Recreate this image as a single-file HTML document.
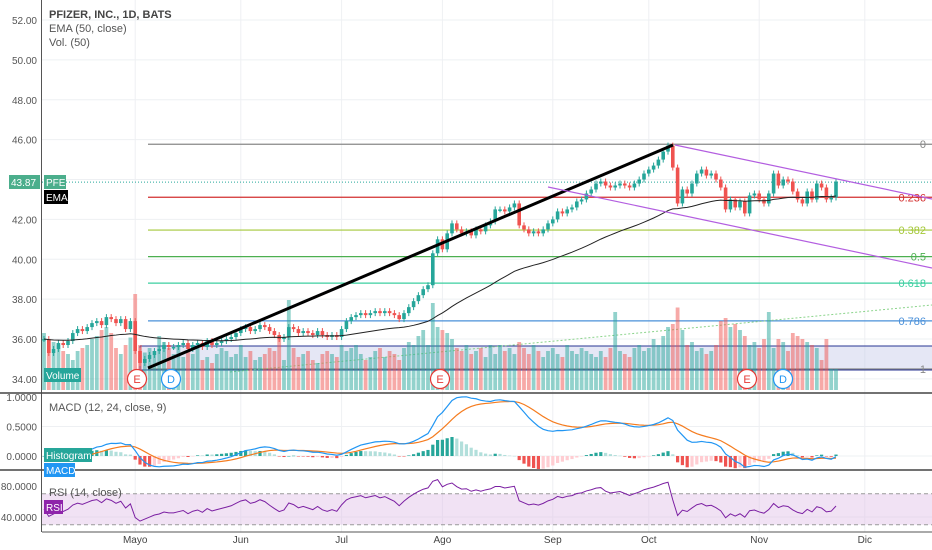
<!DOCTYPE html>
<html><head><meta charset="utf-8">
<style>
html,body{margin:0;padding:0;background:#fff;}
svg{display:block;font-family:"Liberation Sans",sans-serif;}
</style></head>
<body>
<svg id="chart" width="932" height="550" viewBox="0 0 932 550" xmlns="http://www.w3.org/2000/svg">
<g id="grid"></g>
<g id="overlays"></g>
<g id="vol"></g>
<g id="candles"></g>
<g id="ind"></g>
<g id="labels"></g>
</svg>
<script>
const closes=[36.0,35.3,35.5,35.8,35.7,35.9,36.3,36.5,36.4,36.6,
36.8,36.9,36.7,37.1,37.0,36.8,37.0,36.5,36.9,35.4,
34.8,35.0,35.2,35.4,35.5,35.7,35.6,35.6,35.7,35.8,
35.5,35.7,35.8,35.6,35.9,35.7,35.8,35.9,36.0,36.1,
36.3,36.5,36.6,36.4,36.5,36.7,36.6,36.4,36.2,36.0,
36.1,36.6,36.5,36.3,36.4,36.3,36.2,36.4,36.2,36.1,
36.2,36.1,36.5,36.9,37.1,37.2,37.3,37.2,37.3,37.4,
37.3,37.4,37.3,37.2,37.0,37.3,37.6,37.9,38.2,38.5,
38.7,40.3,41.0,40.5,41.3,41.8,41.5,41.3,41.4,41.2,
41.5,41.4,41.7,41.9,42.5,42.5,42.4,42.6,42.8,41.7,
41.5,41.3,41.4,41.3,41.5,41.8,42.0,42.4,42.3,42.5,
42.6,42.9,43.0,43.3,43.5,43.8,43.9,43.7,43.6,43.7,
43.8,43.7,43.6,43.8,44.0,44.3,44.5,44.7,45.0,45.4,
45.7,44.6,42.8,43.5,43.3,43.8,44.3,44.5,44.2,44.3,
44.0,43.6,42.5,43.0,42.6,42.9,42.3,43.2,43.3,43.0,
42.8,43.3,44.3,43.7,44.0,43.9,43.4,43.0,42.8,43.4,
43.0,43.8,43.6,43.0,43.1,43.9];
const volumes=[38,33,32,30,26,24,20,26,28,30,
34,36,40,42,38,28,24,30,35,64,
30,25,28,26,36,32,28,24,30,22,
26,24,28,20,22,18,24,28,26,22,
24,30,22,26,20,22,24,28,26,34,
20,60,28,22,24,26,20,18,24,26,
24,22,30,26,28,30,24,20,22,26,
28,22,26,24,20,28,32,30,36,40,
30,58,42,40,38,34,28,26,30,24,
26,28,22,30,24,30,26,28,24,32,
28,24,30,26,22,26,28,24,22,30,
26,24,28,26,24,22,26,22,28,52,
26,24,22,28,30,26,28,34,30,36,
42,44,55,40,30,32,26,28,24,26,
30,46,48,42,44,40,36,30,32,28,
34,52,28,34,32,26,38,36,34,32,
30,28,20,34,14,14];
const priceTicks=[52,50,48,46,44,42,40,38,36,34];
const monthLabels=["Mayo","Jun","Jul","Ago","Sep","Oct","Nov","Dic"];
const monthIdx=[19,41,62,83,106,126,149,171];
const fibLevels=[0,0.236,0.382,0.5,0.618,0.786,1];
const fibHigh=45.77, fibLow=34.5;
const macdTicks=[1.0,0.5,0.0];
const rsiTicks=[80,40];
const lastPrice=43.87;

const NS="http://www.w3.org/2000/svg";
function el(tag,attrs,parent,text){const e=document.createElementNS(NS,tag);for(const k in attrs)e.setAttribute(k,attrs[k]);if(text!==undefined)e.textContent=text;parent.appendChild(e);return e;}
const xOf=i=>44+i*4.8;
const yP=p=>20+(52-p)*19.94;
const yM=v=>456-v*59;
const yR=v=>486+(80-v)*0.775;
const G=document.getElementById('grid'),O=document.getElementById('overlays'),V=document.getElementById('vol'),C=document.getElementById('candles'),I=document.getElementById('ind'),L=document.getElementById('labels');

priceTicks.forEach(p=>{const l=el('line',{x1:42,x2:932,y1:yP(p),y2:yP(p),stroke:'#eef0f3'},G);


const t=el('text',{x:37,y:yP(p)+4,'text-anchor':'end','font-size':10,fill:'#555'},L,p.toFixed(2));

});
monthIdx.forEach((m,k)=>{const l=el('line',{x1:xOf(m),x2:xOf(m),y1:0,y2:532,stroke:'#eef0f3'},G);


const t=el('text',{x:xOf(m),y:543,'text-anchor':'middle','font-size':10,fill:'#444'},L,monthLabels[k]);

});
[0.5,0].forEach(v=>el('line',{x1:42,x2:932,y1:yM(v),y2:yM(v),stroke:'#eef0f3'},G));
el('line',{x1:42,x2:932,y1:yR(40),y2:yR(40),stroke:'#eef0f3'},G);

const fibColors=['#888','#d32f2f','#a5c83a','#4caf50','#3ccfa0','#4a90d9','#888'];
el('rect',{x:140,y:346,width:792,height:24,fill:'#c5cae9','fill-opacity':0.45},O);
el('line',{x1:140,x2:932,y1:346,y2:346,stroke:'#283593','stroke-width':1},O);
el('line',{x1:140,x2:932,y1:370,y2:370,stroke:'#283593','stroke-width':1},O);
el('line',{x1:140,x2:140,y1:346,y2:370,stroke:'#283593','stroke-width':1},O);
fibLevels.forEach((f,k)=>{const p=fibHigh-(fibHigh-fibLow)*f;
const l=el('line',{x1:148,x2:932,y1:yP(p),y2:yP(p),stroke:fibColors[k],'stroke-width':1.2},O);


const t=el('text',{x:926,y:yP(p)+4,'text-anchor':'end','font-size':11,fill:fibColors[k]},L,String(f));

});
el('line',{x1:230,y1:372,x2:932,y2:305,stroke:'#8bd48b','stroke-width':1,'stroke-dasharray':'2,2'},O);
el('line',{x1:42,x2:932,y1:yP(lastPrice),y2:yP(lastPrice),stroke:'#26a69a','stroke-width':1,'stroke-dasharray':'1,2'},O);

for(let i=0;i<closes.length;i++){const o=i?closes[i-1]:closes[0];const up=closes[i]>=o;const h=volumes[i]*1.5;
const r=el('rect',{x:xOf(i)-1.9,y:390-h,width:3.8,height:h,fill:up?'#26a69a':'#ef5350','fill-opacity':0.5},V);

}

for(let i=0;i<closes.length;i++){const o=i?closes[i-1]:closes[0],c=closes[i];const up=c>=o;const col=up?'#26a69a':'#ef5350';
const hi=Math.max(o,c)+0.15,lo=Math.min(o,c)-0.15;
el('line',{x1:xOf(i),x2:xOf(i),y1:yP(hi),y2:yP(lo),stroke:col},C);
const r=el('rect',{x:xOf(i)-1.8,y:yP(Math.max(o,c)),width:3.6,height:Math.max(1.5,Math.abs(yP(o)-yP(c))),fill:col},C);

}

function ema(arr,n){const k=2/(n+1);const out=[];let e=arr[0];arr.forEach((v,i)=>{e=i?v*k+e*(1-k):v;out.push(e);});return out;}
const e50=ema(closes,50);
el('polyline',{points:e50.map((v,i)=>xOf(i)+','+yP(v)).join(' '),fill:'none',stroke:'#222','stroke-width':1},C);

el('line',{x1:148,y1:368,x2:673,y2:145,stroke:'#000','stroke-width':3},O.parentNode);
el('line',{x1:675,y1:145,x2:932,y2:199,stroke:'#b35ee0','stroke-width':1.2},O.parentNode);
el('line',{x1:548,y1:187,x2:932,y2:268,stroke:'#b35ee0','stroke-width':1.2},O.parentNode);

const e12=ema(closes,12),e24=ema(closes,24);
const macd=e12.map((v,i)=>(v-e24[i])*0.9);const sig=ema(macd,9);
macd.forEach((m,i)=>{const h=m-sig[i];const prev=i?macd[i-1]-sig[i-1]:0;
const col=h>=0?(h>=prev?'#26a69a':'#b2dfdb'):(h<prev?'#ef5350':'#ffcdd2');
const y1=yM(Math.max(h,0)),y2=yM(Math.min(h,0));
const r=el('rect',{x:xOf(i)-1.6,y:y1,width:3.2,height:Math.max(0.5,y2-y1),fill:col},I);

});
el('polyline',{points:sig.map((v,i)=>xOf(i)+','+yM(v)).join(' '),fill:'none',stroke:'#f57c1f','stroke-width':1.2},I);
el('polyline',{points:macd.map((v,i)=>xOf(i)+','+yM(v)).join(' '),fill:'none',stroke:'#2196f3','stroke-width':1.2},I);
macdTicks.forEach(v=>el('text',{x:37,y:yM(v)+4,'text-anchor':'end','font-size':10,fill:'#555'},L,v.toFixed(4)));

const rsi=[];let ag=0.12,al=0.12;
closes.forEach((c,i)=>{if(i===0){rsi.push(50);return;}const d=c-closes[i-1];const g=Math.max(d,0),l=Math.max(-d,0);
ag=(ag*13+g)/14;al=(al*13+l)/14;
rsi.push(al===0?100:100-100/(1+ag/al));});
el('rect',{x:42,y:yR(70),width:890,height:yR(30)-yR(70),fill:'#e1bee7','fill-opacity':0.45},I);
[70,30].forEach(v=>el('line',{x1:42,x2:932,y1:yR(v),y2:yR(v),stroke:'#999','stroke-dasharray':'4,3'},I));
el('polyline',{points:rsi.map((v,i)=>xOf(i)+','+yR(v)).join(' '),fill:'none',stroke:'#7b1fa2','stroke-width':1},I);
rsiTicks.forEach(v=>el('text',{x:37,y:yR(v)+4,'text-anchor':'end','font-size':10,fill:'#555'},L,v.toFixed(4)));

el('line',{x1:41.5,x2:41.5,y1:0,y2:532,stroke:'#555'},L);
el('line',{x1:0,x2:932,y1:393,y2:393,stroke:'#444','stroke-width':1.5},L);
el('line',{x1:0,x2:932,y1:470,y2:470,stroke:'#444','stroke-width':1.5},L);
el('line',{x1:42,x2:932,y1:532,y2:532,stroke:'#555'},L);

el('text',{x:49,y:18,'font-size':11,fill:'#444','font-weight':'bold'},L,'PFIZER, INC., 1D, BATS');
el('text',{x:49,y:32,'font-size':11,fill:'#555'},L,'EMA (50, close)');
el('text',{x:49,y:46,'font-size':11,fill:'#555'},L,'Vol. (50)');
el('text',{x:49,y:411,'font-size':11,fill:'#555'},L,'MACD (12, 24, close, 9)');
el('text',{x:49,y:496,'font-size':11,fill:'#555'},L,'RSI (14, close)');

function tag(x,y,w,h,bg,txt,name){const g=el('g',{},L);
el('rect',{x:x,y:y,width:w,height:h,fill:bg},g);el('text',{x:x+2,y:y+h-3,'font-size':10,fill:'#fff'},g,txt);}
tag(9,175,31,14,'#4bae8c','43.87','last-price-tag');
tag(44,175,22,14,'#4bae8c','PFE','symbol-tag');
tag(44,190,24,14,'#000','EMA','ema-tag');
tag(44,368,37,14,'#26a69a','Volume','volume-tag');
tag(44,448,48,14,'#26a69a','Histogram','histogram-tag');
tag(44,463,31,14,'#2196f3','MACD','macd-tag');
tag(44,500,19,14,'#8e24aa','RSI','rsi-tag');

[[137,'E','#e53935'],[171,'D','#2196f3'],[440,'E','#e53935'],[747,'E','#e53935'],[783,'D','#2196f3']].forEach(ev=>{
const g=el('g',{},L);
el('circle',{cx:ev[0],cy:379,r:9.5,fill:'#fff',stroke:ev[2],'stroke-width':1.2},g);
el('text',{x:ev[0],y:383,'text-anchor':'middle','font-size':11,fill:ev[2]},g,ev[1]);});
</script>
</body></html>
